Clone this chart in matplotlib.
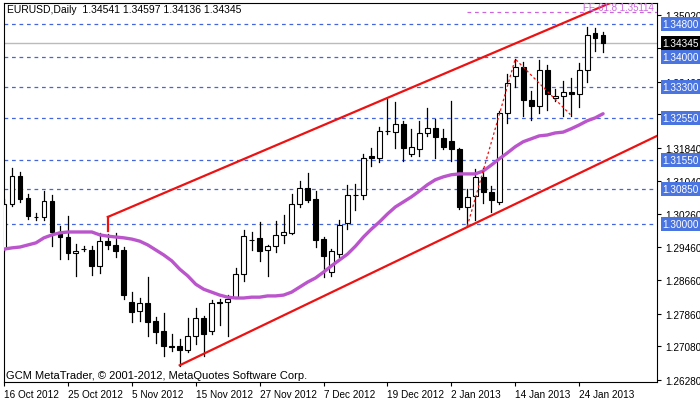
import matplotlib
matplotlib.use("Agg")
import matplotlib.pyplot as plt
from matplotlib.patches import Rectangle

plt.rcParams['font.family'] = ['Liberation Sans', 'DejaVu Sans']

opens = [1.2944,1.3049,1.3116,1.3063,1.3018,1.3018,1.3056,1.2982,1.2970,1.2932,
         1.2941,1.2939,1.2901,1.2960,1.2951,1.2939,1.2814,1.2793,1.2812,1.2769,
         1.2745,1.2709,1.2709,1.2699,1.2733,1.2776,1.2745,1.2814,1.2814,1.2826,
         1.2881,1.2964,1.2968,1.2939,1.2948,1.2975,1.2980,1.3049,1.3087,1.3061,
         1.2965,1.2886,1.2929,1.3004,1.3071,1.3071,1.3164,1.3159,1.3224,1.3221,
         1.3241,1.3169,1.3181,1.3219,1.3231,1.3207,1.3200,1.3181,1.3042,1.3068,
         1.3114,1.3078,1.3054,1.3267,1.3356,1.3377,1.3298,1.3284,1.3370,1.3303,
         1.3308,1.3317,1.3313,1.3370,1.3459,1.34541]
highs = [1.3061,1.3135,1.3126,1.3073,1.3027,1.3080,1.3071,1.2996,1.3020,1.2953,
         1.2948,1.2948,1.2980,1.2977,1.2980,1.2946,1.2838,1.2824,1.2874,1.2778,
         1.2788,1.2738,1.2726,1.2776,1.2800,1.2781,1.2819,1.2822,1.2831,1.2896,
         1.2987,1.2982,1.3006,1.2951,1.3008,1.3023,1.3073,1.3104,1.3123,1.3080,
         1.2970,1.2941,1.3011,1.3095,1.3097,1.3169,1.3183,1.3233,1.3301,1.3293,
         1.3248,1.3229,1.3248,1.3279,1.3253,1.3229,1.3296,1.3183,1.3085,1.3133,
         1.3135,1.3092,1.3272,1.3360,1.3396,1.3389,1.3320,1.3394,1.3382,1.3324,
         1.3344,1.3351,1.3387,1.3473,1.3471,1.34597]
lows = [1.2936,1.3044,1.3054,1.3013,1.3011,1.3011,1.2948,1.2917,1.2917,1.2877,
        1.2936,1.2879,1.2884,1.2941,1.2922,1.2822,1.2766,1.2769,1.2733,1.2716,
        1.2685,1.2697,1.2661,1.2695,1.2714,1.2685,1.2738,1.2759,1.2733,1.2826,
        1.2865,1.2939,1.2913,1.2877,1.2934,1.2956,1.2978,1.3042,1.3054,1.2946,
        1.2874,1.2877,1.2922,1.2989,1.3035,1.3061,1.3140,1.3150,1.3217,1.3183,
        1.3152,1.3164,1.3164,1.3212,1.3159,1.3181,1.3152,1.3037,1.2996,1.3011,
        1.3051,1.3030,1.3049,1.3243,1.3329,1.3260,1.3250,1.3267,1.3274,1.3296,
        1.3260,1.3260,1.3281,1.3341,1.3415,1.34136]
closes = [1.3049,1.3116,1.3061,1.3020,1.3019,1.3056,1.2982,1.2970,1.2932,1.2936,
          1.2942,1.2901,1.2960,1.2951,1.2936,1.2831,1.2790,1.2812,1.2766,1.2742,
          1.2709,1.2707,1.2699,1.2733,1.2776,1.2738,1.2812,1.2812,1.2822,1.2881,
          1.2972,1.2962,1.2936,1.2948,1.2975,1.2982,1.3049,1.3087,1.3059,1.2963,
          1.2925,1.2936,1.2999,1.3071,1.3070,1.3159,1.3159,1.3224,1.3223,1.3241,
          1.3183,1.3186,1.3219,1.3231,1.3209,1.3186,1.3181,1.3042,1.3066,1.3114,
          1.3078,1.3059,1.3267,1.3339,1.3377,1.3298,1.3284,1.3370,1.3313,1.3308,
          1.3317,1.3313,1.3370,1.3454,1.3447,1.34345]
ma = [1.2941,1.2944,1.2946,1.2951,1.2956,1.2968,1.2975,1.2980,1.2982,1.2982,
      1.2982,1.2982,1.2975,1.2972,1.2970,1.2968,1.2965,1.2960,1.2951,1.2939,
      1.2927,1.2913,1.2893,1.2877,1.2857,1.2845,1.2838,1.2831,1.2826,1.2824,
      1.2824,1.2826,1.2826,1.2829,1.2829,1.2831,1.2838,1.2850,1.2862,1.2872,
      1.2886,1.2901,1.2915,1.2929,1.2948,1.2970,1.2989,1.3006,1.3025,1.3042,
      1.3054,1.3066,1.3080,1.3095,1.3107,1.3114,1.3119,1.3121,1.3121,1.3121,
      1.3128,1.3142,1.3157,1.3171,1.3186,1.3198,1.3205,1.3212,1.3214,1.3219,
      1.3221,1.3229,1.3238,1.3248,1.3255,1.3265]

date_labels = ["16 Oct 2012","25 Oct 2012","5 Nov 2012","15 Nov 2012","27 Nov 2012",
               "7 Dec 2012","19 Dec 2012","2 Jan 2013","14 Jan 2013","24 Jan 2013"]
date_idx = [0,8,16,24,32,40,48,56,64,72]

level_prices = [1.3480,1.3400,1.3330,1.3255,1.3155,1.3085,1.3000]
axis_ticks = [1.35020,1.34220,1.33420,1.32640,1.31840,1.31040,1.30260,1.29460,
              1.28660,1.27860,1.27080,1.26280]
upper_ch = ([13, 75.9], [1.3018, 1.3530])
lower_ch = ([22, 81.75], [1.2663, 1.3212])
fe_x = [58, 64, 70.9]
fe_y = [1.2996, 1.3396, 1.3263]
fe_level = 1.35114
last_price = 1.34345

W, H = 700, 402
fig = plt.figure(figsize=(7, 4.02), dpi=100)
ax = fig.add_axes([4/W, (H-383)/H, 653/W, 379/H])
ax.set_xlim(0.125, 81.75)
ax.set_ylim(1.2623, 1.3530)

for p in level_prices:
    ax.axhline(p, color="#4466dd", lw=0.9, ls=(0, (3, 3)), zorder=1)
ax.axhline(last_price, color="#bbbbbb", lw=1, zorder=1)
ax.plot([58, 81.75], [fe_level-0.0003]*2, color="#cc66dd", lw=0.9, ls=(0, (3, 3)), zorder=1)

bw = 0.6
for i, (o, h, l, c) in enumerate(zip(opens, highs, lows, closes)):
    ax.plot([i, i], [l, h], color="black", lw=0.9, zorder=3)
    bottom = min(o, c)
    ht = max(abs(c - o), 0.00005)
    fc = "white" if c >= o else "black"
    ax.add_patch(Rectangle((i - bw/2, bottom), bw, ht, facecolor=fc,
                           edgecolor="black", lw=0.8, zorder=4))

ax.plot(range(len(ma)), ma, color="#bb55cc", lw=2.4, zorder=5, solid_capstyle="round")
ax.plot(*upper_ch, color="#ee1111", lw=1.6, zorder=6)
ax.plot([13, 13], [1.3018, 1.2985], color="#ee1111", lw=1.6, zorder=6)
ax.plot(*lower_ch, color="#ee1111", lw=1.6, zorder=6)
ax.plot(fe_x, fe_y, color="#ee1111", lw=0.9, ls=(0, (2, 2)), zorder=6)

ax.text(81.4, 1.3520, "FE 61.8 1.35114", color="#cc66dd", fontsize=7,
        ha="right", va="center", zorder=7)

ax.set_xticks(date_idx)
ax.set_xticklabels(date_labels, fontsize=7.2, ha="left")
ax.tick_params(axis="x", length=3, pad=2)
ax.yaxis.tick_right()
ax.set_yticks(axis_ticks)
ax.set_yticklabels([f"{t:.5f}" for t in axis_ticks], fontsize=7.2)
ax.tick_params(axis="y", length=3, pad=3)
for s in ax.spines.values():
    s.set_linewidth(0.8)

trans = ax.get_yaxis_transform()
for p in level_prices:
    ax.text(1.0085, p, f"{p:.5f}", transform=trans, fontsize=7.2, color="white",
            va="center", ha="left", clip_on=False, zorder=10,
            bbox=dict(boxstyle="square,pad=0.2", facecolor="#4a74e0", edgecolor="none"))
ax.text(1.0085, last_price, f"{last_price:.5f}", transform=trans, fontsize=7.2, color="white",
        va="center", ha="left", clip_on=False, zorder=10,
        bbox=dict(boxstyle="square,pad=0.2", facecolor="black", edgecolor="none"))

fig.text(7/W, 1 - 10/H, "EURUSD,Daily  1.34541 1.34597 1.34136 1.34345", fontsize=7.5,
         va="center", ha="left")
fig.text(6/W, 1 - 376/H, "GCM MetaTrader, © 2001-2012, MetaQuotes Software Corp.",
         fontsize=8, va="center", ha="left")

fig.savefig("out.png", dpi=100)
